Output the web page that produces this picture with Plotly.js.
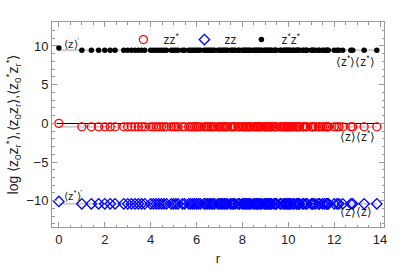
<!DOCTYPE html>
<html><head><meta charset="utf-8">
<script src="https://cdn.plot.ly/plotly-3.0.1.min.js"></script>
<style>html,body{margin:0;padding:0;background:#fff}#c{width:407px;height:271px}</style>
</head><body><div id="c"></div>
<script>
// lattice distances r
const rVals = [
 0,1,1.414,1.732,2,2.236,2.449,2.828,3,3.162,
 3.317,3.464,3.606,3.742,4,4.123,4.243,4.359,4.472,4.583,
 4.690,4.899,5,5.099,5.196,5.385,5.477,5.657,5.745,5.831,
 5.916,6,6.083,6.164,6.325,6.403,6.481,6.557,6.633,6.708,
 6.782,6.928,7,7.071,7.141,7.211,7.280,7.348,7.483,7.550,
 7.616,7.681,7.810,7.874,8,8.062,8.124,8.185,8.246,8.307,
 8.367,8.485,8.544,8.602,8.660,8.718,8.775,8.832,8.944,9,
 9.055,9.110,9.165,9.220,9.274,9.381,9.434,9.487,9.644,9.695,
 9.798,9.849,9.899,9.950,10,10.050,10.100,10.198,10.247,10.344,
 10.392,10.440,10.488,10.630,10.677,10.770,10.817,11,11.045,11.091,
 11.180,11.314,11.358,11.489,11.576,11.662,11.705,11.747,12,12.124,
 12.207,12.369,12.728,12.806,13.304,13.856
];
// zz* series (red rings)
const zzStar = [
 0,-0.45,-0.45,-0.45,-0.45,-0.45,-0.45,-0.45,-0.45,-0.45,
 -0.45,-0.45,-0.45,-0.45,-0.45,-0.45,-0.45,-0.45,-0.45,-0.45,
 -0.45,-0.45,-0.45,-0.45,-0.45,-0.45,-0.45,-0.45,-0.45,-0.45,
 -0.45,-0.45,-0.45,-0.45,-0.45,-0.45,-0.45,-0.45,-0.45,-0.45,
 -0.45,-0.45,-0.45,-0.45,-0.45,-0.45,-0.45,-0.45,-0.45,-0.45,
 -0.45,-0.45,-0.45,-0.45,-0.45,-0.45,-0.45,-0.45,-0.45,-0.45,
 -0.45,-0.45,-0.45,-0.45,-0.45,-0.45,-0.45,-0.45,-0.45,-0.45,
 -0.45,-0.45,-0.45,-0.45,-0.45,-0.45,-0.45,-0.45,-0.45,-0.45,
 -0.45,-0.45,-0.45,-0.45,-0.45,-0.45,-0.45,-0.45,-0.45,-0.45,
 -0.45,-0.45,-0.45,-0.45,-0.45,-0.45,-0.45,-0.45,-0.45,-0.45,
 -0.45,-0.45,-0.45,-0.45,-0.45,-0.45,-0.45,-0.45,-0.45,-0.45,
 -0.45,-0.45,-0.45,-0.45,-0.45,-0.45
];
// zz series (blue diamonds)
const zz = [
 -10.1,-10.4,-10.4,-10.4,-10.4,-10.4,-10.4,-10.4,-10.4,-10.4,
 -10.4,-10.4,-10.4,-10.4,-10.4,-10.4,-10.4,-10.4,-10.4,-10.4,
 -10.4,-10.4,-10.4,-10.4,-10.4,-10.4,-10.4,-10.4,-10.4,-10.4,
 -10.4,-10.4,-10.4,-10.4,-10.4,-10.4,-10.4,-10.4,-10.4,-10.4,
 -10.4,-10.4,-10.4,-10.4,-10.4,-10.4,-10.4,-10.4,-10.4,-10.4,
 -10.4,-10.4,-10.4,-10.4,-10.4,-10.4,-10.4,-10.4,-10.4,-10.4,
 -10.4,-10.4,-10.4,-10.4,-10.4,-10.4,-10.4,-10.4,-10.4,-10.4,
 -10.4,-10.4,-10.4,-10.4,-10.4,-10.4,-10.4,-10.4,-10.4,-10.4,
 -10.4,-10.4,-10.4,-10.4,-10.4,-10.4,-10.4,-10.4,-10.4,-10.4,
 -10.4,-10.4,-10.4,-10.4,-10.4,-10.4,-10.4,-10.4,-10.4,-10.4,
 -10.4,-10.4,-10.4,-10.4,-10.4,-10.4,-10.4,-10.4,-10.4,-10.4,
 -10.4,-10.4,-10.4,-10.4,-10.4,-10.4
];
// z*z* series (black dots)
const zStarZStar = [
 9.75,9.45,9.45,9.45,9.45,9.45,9.45,9.45,9.45,9.45,
 9.45,9.45,9.45,9.45,9.45,9.45,9.45,9.45,9.45,9.45,
 9.45,9.45,9.45,9.45,9.45,9.45,9.45,9.45,9.45,9.45,
 9.45,9.45,9.45,9.45,9.45,9.45,9.45,9.45,9.45,9.45,
 9.45,9.45,9.45,9.45,9.45,9.45,9.45,9.45,9.45,9.45,
 9.45,9.45,9.45,9.45,9.45,9.45,9.45,9.45,9.45,9.45,
 9.45,9.45,9.45,9.45,9.45,9.45,9.45,9.45,9.45,9.45,
 9.45,9.45,9.45,9.45,9.45,9.45,9.45,9.45,9.45,9.45,
 9.45,9.45,9.45,9.45,9.45,9.45,9.45,9.45,9.45,9.45,
 9.45,9.45,9.45,9.45,9.45,9.45,9.45,9.45,9.45,9.45,
 9.45,9.45,9.45,9.45,9.45,9.45,9.45,9.45,9.45,9.45,
 9.45,9.45,9.45,9.45,9.45,9.45
];
// asymptotic levels (gray reference lines)
const asymLevels = [9.45, -0.45, -10.4];
const xTicks = [0,2,4,6,8,10,12,14];
const yTicks = [-10,-5,0,5,10];

const F = 'Liberation Sans, Arial, sans-serif';
const traces = [
 {x:rVals, y:zzStar, type:'scatter', mode:'markers', name:'zz<sup>*</sup>',
  marker:{symbol:'circle-open', size:8, color:'#ff0000', line:{width:1.3, color:'#ff0000'}}},
 {x:rVals, y:zz, type:'scatter', mode:'markers', name:'zz',
  marker:{symbol:'diamond-open', size:8, color:'#0000ff', line:{width:1.3, color:'#0000ff'}}},
 {x:rVals, y:zStarZStar, type:'scatter', mode:'markers', name:'z<sup>*</sup>z<sup>*</sup>',
  marker:{symbol:'circle', size:5.5, color:'#000000'}}
];
const shapes = asymLevels.map(v => ({type:'line', xref:'x', yref:'y', x0:rVals[0], x1:rVals[rVals.length-1],
  y0:v, y1:v, line:{color:'#cccccc', width:2}, layer:'below'}));

const axisCommon = {showgrid:false, showline:true, linecolor:'#999', linewidth:1, mirror:'ticks',
  ticks:'inside', ticklen:5, tickcolor:'#999', tickwidth:1, tickfont:{family:F, size:13, color:'#222'}};
const layout = {
  width:407, height:271, margin:{l:52, r:23, t:22, b:44},
  paper_bgcolor:'#fff', plot_bgcolor:'#fff', font:{family:F, color:'#222'},
  showlegend:true,
  legend:{orientation:'h', x:0.215, y:0.985, xanchor:'left', yanchor:'top', bgcolor:'rgba(0,0,0,0)',
    font:{family:F, size:12, color:'#222'}, itemwidth:30, tracegroupgap:0},
  xaxis:Object.assign({}, axisCommon, {range:[-0.3, 14.17], tickvals:xTicks, zeroline:false,
    minor:{dtick:0.5, ticks:'inside', ticklen:2.5, tickcolor:'#999'},
    title:{text:'r', font:{family:F, size:13, color:'#222'}, standoff:8}}),
  yaxis:Object.assign({}, axisCommon, {range:[-13.4, 13.1], tickvals:yTicks, zeroline:true, zerolinecolor:'#000', zerolinewidth:1,
    minor:{dtick:1, ticks:'inside', ticklen:2.5, tickcolor:'#999'},
    title:{text:'log ⟨z<sub>0</sub>z<sub>r</sub><sup>*</sup>⟩,⟨z<sub>0</sub>z<sub>r</sub>⟩,⟨z<sub>0</sub><sup>*</sup>z<sub>r</sub><sup>*</sup>⟩',
      font:{family:F, size:14, color:'#222'}, standoff:4}}),
  shapes:shapes,
  annotations:[
    {x:0.15, y:10.4, xref:'x', yref:'y', text:'⟨z⟩<sup>\'</sup>', showarrow:false, xanchor:'left', font:{family:F, size:11, color:'#222'}},
    {x:0.15, y:-9.3, xref:'x', yref:'y', text:'⟨z<sup>*</sup>⟩<sup>\'</sup>', showarrow:false, xanchor:'left', font:{family:F, size:11, color:'#222'}},
    {x:13.85, y:8.1, xref:'x', yref:'y', text:'⟨z<sup>*</sup>⟩⟨z<sup>*</sup>⟩', showarrow:false, xanchor:'right', font:{family:F, size:12, color:'#222'}},
    {x:13.85, y:-1.6, xref:'x', yref:'y', text:'⟨z⟩⟨z<sup>*</sup>⟩', showarrow:false, xanchor:'right', font:{family:F, size:12, color:'#222'}},
    {x:13.75, y:-11.5, xref:'x', yref:'y', text:'⟨z⟩⟨z⟩', showarrow:false, xanchor:'right', font:{family:F, size:12, color:'#222'}}
  ]
};
Plotly.newPlot('c', traces, layout, {displayModeBar:false, staticPlot:true});
</script></body></html>
